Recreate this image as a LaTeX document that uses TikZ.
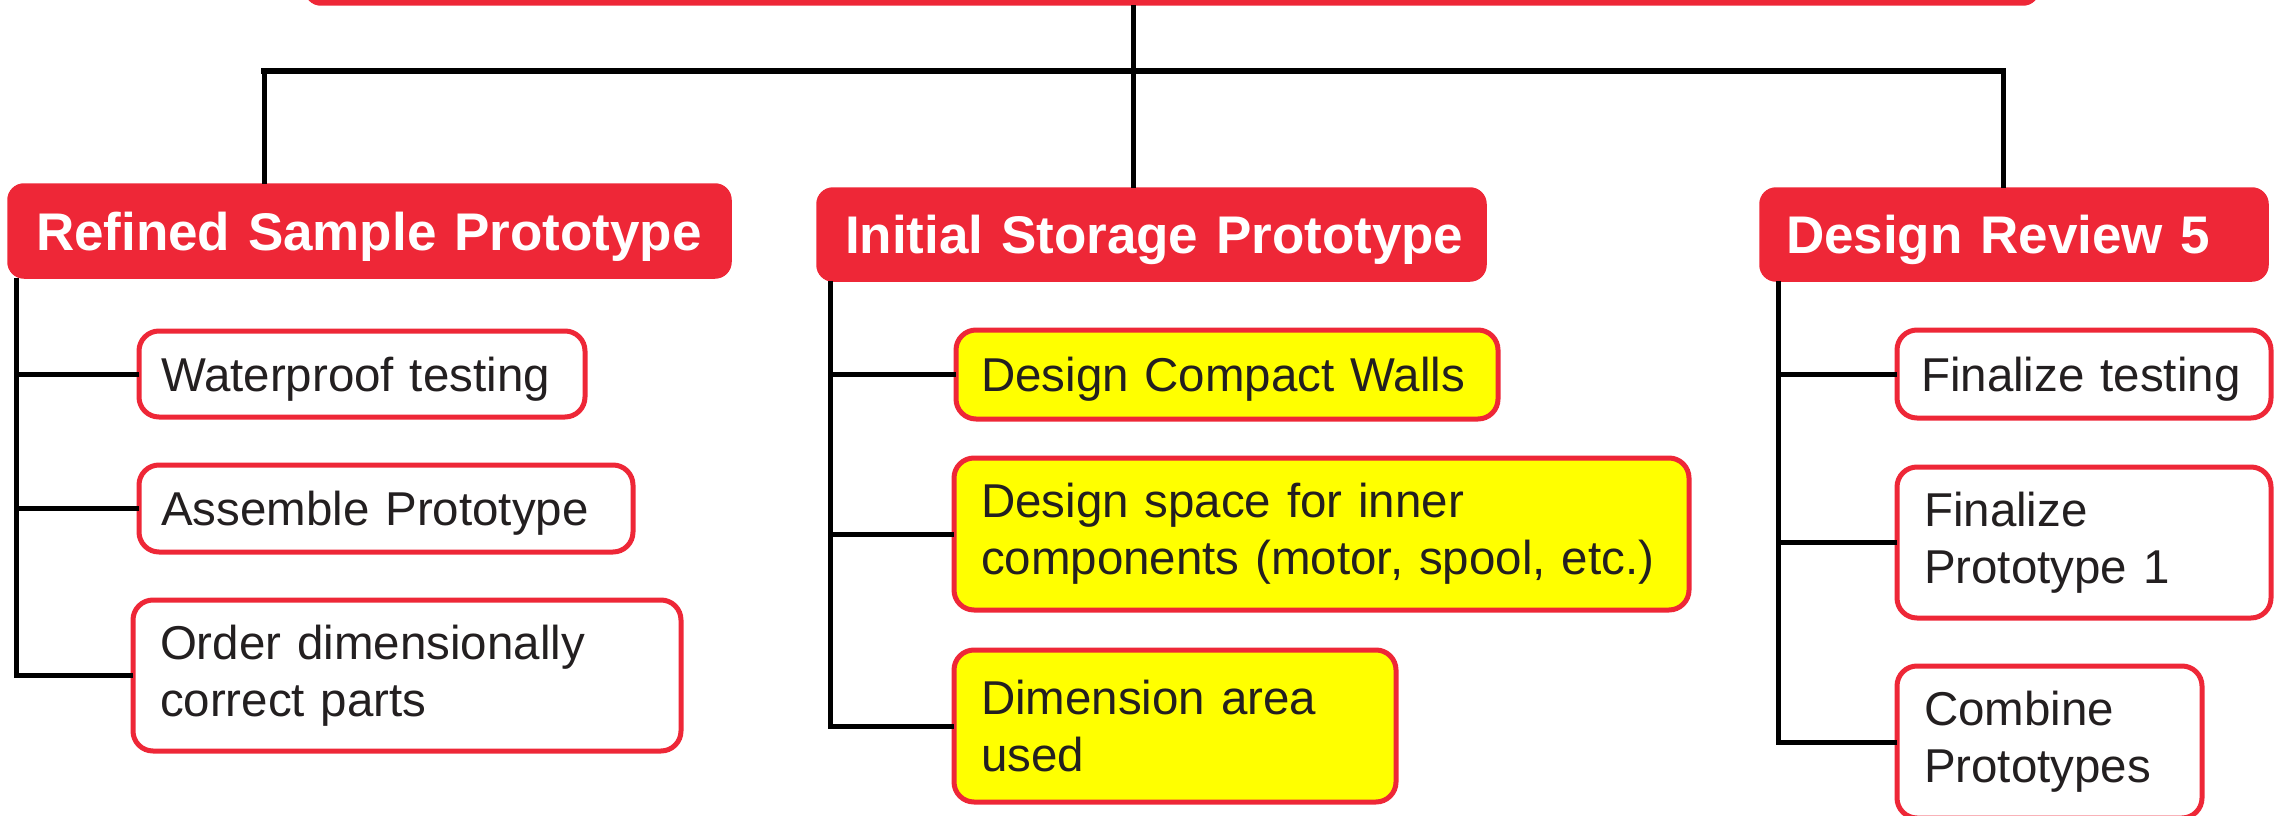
\documentclass[tikz,border=0pt]{standalone}
\usepackage{fontspec}
\setmainfont{Liberation Sans}
\definecolor{wbsred}{HTML}{EE2737}
\definecolor{wbsink}{HTML}{231F20}
\definecolor{wbsyellow}{HTML}{FFFF00}
\begin{document}
\begin{tikzpicture}[x=1pt,y=-1pt,
  head/.style={anchor=north west, fill=wbsred, draw=wbsred, line width=1.5pt,
    rounded corners=16pt, text=white, font=\fontsize{53}{60}\selectfont\bfseries,
    inner xsep=28pt, inner ysep=0pt, align=left, outer sep=0pt, text depth=0pt},
  task/.style={anchor=north west, fill=white, draw=wbsred, line width=5pt,
    rounded corners=20pt, text=wbsink, font=\fontsize{47.5}{57}\selectfont,
    inner xsep=22pt, inner ysep=0pt, align=left, outer sep=0pt},
  hot/.style={task, fill=wbsyellow},
  oneline/.style={text depth=0pt},
  twoline/.style={inner xsep=27pt},
  link/.style={line width=5pt, draw=black}]
\useasboundingbox (0,0) rectangle (2275,816);
\clip (0,0) rectangle (2275,816);

% top-level package (only its lower edge lies inside the page)
\node[head, anchor=south, minimum width=1734pt, minimum height=120pt] (root) at (1172,5) {};

% level 2 headers
\node[head, minimum width=723pt, minimum height=94pt, text width=667pt] (h1) at (8,184) {\mbox{Refined Sample Prototype}};
\node[head, minimum width=669pt, minimum height=93pt, text width=613pt, inner xsep=22pt] (h2) at (817,188) {\mbox{Initial Storage Prototype}};
\node[head, minimum width=508pt, minimum height=93pt, text width=456pt, inner xsep=24pt] (h3) at (1760,188) {\mbox{Design Review 5}};

% work packages
\node[task, oneline, minimum width=446pt, minimum height=86pt, text width=402pt] (c11) at (139,331) {Waterproof testing};
\node[task, oneline, minimum width=494pt, minimum height=87pt, text width=450pt] (c12) at (139,465) {Assemble Prototype};
\node[task, twoline, minimum width=548pt, minimum height=151pt, text width=494pt] (c13) at (133,600) {Order dimensionally\\correct parts};

\node[hot, oneline, minimum width=542pt, minimum height=89pt, text width=492pt, inner xsep=25pt] (c21) at (956,330) {Design Compact Walls};
\node[hot, twoline, minimum width=735pt, minimum height=152pt, text width=681pt] (c22) at (954,458) {Design space for inner\\components (motor, spool, etc.)};
\node[hot, twoline, minimum width=442pt, minimum height=152pt, text width=388pt] (c23) at (954,650) {Dimension area\\used};

\node[task, oneline, minimum width=374pt, minimum height=88pt, text width=326pt, inner xsep=24pt] (c31) at (1897,330) {\mbox{Finalize testing}};
\node[task, twoline, minimum width=374pt, minimum height=151pt, text width=320pt] (c32) at (1897,467) {Finalize\\Prototype 1};
\node[task, twoline, minimum width=305pt, minimum height=152pt, text width=251pt] (c33) at (1897,666) {Combine\\Prototypes};

% top distribution bar
\coordinate (barL) at (264,71);
\coordinate (barM) at (1133,71);
\coordinate (barR) at (2003,71);
\draw[link, line width=6pt, line cap=rect] (barL) -- (barR);
\draw[link] (root.south -| barM) -- (barM |- h2.north);
\draw[link] (barL) -- (barL |- h1.north);
\draw[link] (barR) -- (barR |- h3.north);

% trunks under each header
\coordinate (tA) at (16,0);
\coordinate (tB) at (830,0);
\coordinate (tC) at (1778,0);
\draw[link] (h1.south -| tA) |- (c13.west);
\draw[link] (tA |- c11.west) -- (c11.west);
\draw[link] (tA |- c12.west) -- (c12.west);

\draw[link] (h2.south -| tB) |- (c23.west);
\draw[link] (tB |- c21.west) -- (c21.west);
\draw[link] (tB |- c22.west) -- (c22.west);

\draw[link] (h3.south -| tC) |- (c33.west);
\draw[link] (tC |- c31.west) -- (c31.west);
\draw[link] (tC |- c32.west) -- (c32.west);
\end{tikzpicture}
\end{document}
